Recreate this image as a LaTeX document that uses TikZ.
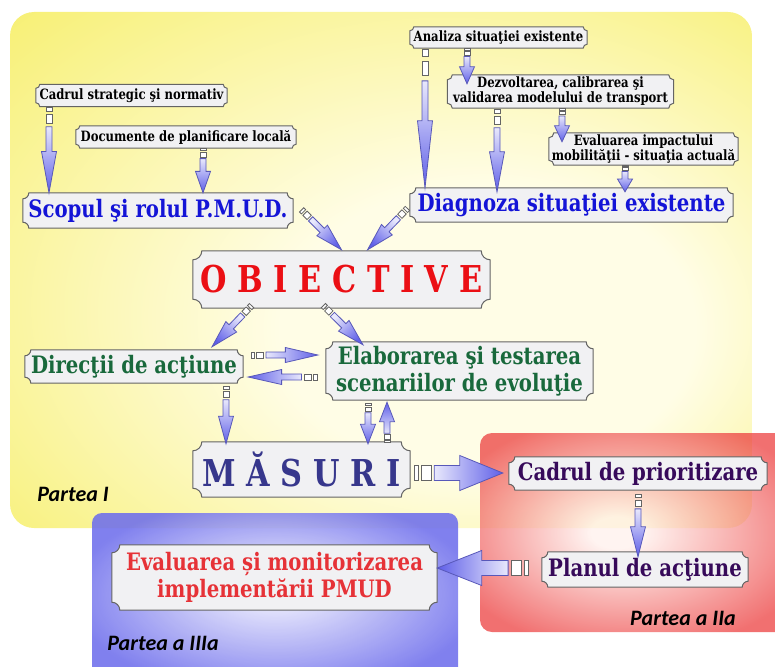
\documentclass[tikz,border=0pt]{standalone}
\usepackage{fontspec}
\setmainfont{DejaVu Serif}[FakeStretch=0.82]
\newfontfamily\partfont{Carlito}
\usetikzlibrary{calc}

\definecolor{yellowlight}{RGB}{255,253,230}
\definecolor{panelyellow}{RGB}{246,238,100}
\definecolor{redlight}{RGB}{255,240,236}
\definecolor{panelred}{RGB}{236,62,62}
\definecolor{bluelight}{RGB}{230,230,252}
\definecolor{panelblue}{RGB}{110,110,236}
\definecolor{plaquefill}{RGB}{241,241,243}
\definecolor{plaqueedge}{RGB}{100,100,100}
\definecolor{arrowedge}{RGB}{88,88,185}
\definecolor{arrowlight}{RGB}{232,232,252}
\definecolor{arrowdark}{RGB}{95,95,232}
\definecolor{textblue}{RGB}{20,20,215}
\definecolor{textred}{RGB}{235,15,20}
\definecolor{textgreen}{RGB}{25,105,60}
\definecolor{textnavy}{RGB}{55,55,140}
\definecolor{textpurple}{RGB}{55,10,90}
\definecolor{textcoral}{RGB}{230,50,55}

\pgfdeclarelayer{panels}
\pgfdeclarelayer{plaques}
\pgfsetlayers{panels,plaques,main}

\pgfdeclareradialshading{yellowglow}{\pgfpoint{10bp}{-8bp}}{color(0bp)=(yellowlight); color(14bp)=(yellowlight); color(42bp)=(panelyellow); color(50bp)=(panelyellow)}
\pgfdeclareradialshading{redglow}{\pgfpoint{-4bp}{0bp}}{color(0bp)=(redlight); color(4bp)=(redlight); color(30bp)=(panelred); color(50bp)=(panelred)}
\pgfdeclareradialshading{blueglow}{\pgfpoint{0bp}{4bp}}{color(0bp)=(bluelight); color(4bp)=(bluelight); color(28bp)=(panelblue); color(50bp)=(panelblue)}

% box with hollow corners behind a named node
\newcommand{\plaque}[2]{%
  \begin{pgfonlayer}{plaques}
    \filldraw[draw=plaqueedge, fill=plaquefill, line width=1pt]
      ($(#1.north west)+(0,-#2)$) arc[start angle=270, end angle=360, radius=#2]
      -- ($(#1.north east)+(-#2,0)$) arc[start angle=180, end angle=270, radius=#2]
      -- ($(#1.south east)+(0,#2)$) arc[start angle=90, end angle=180, radius=#2]
      -- ($(#1.south west)+(#2,0)$) arc[start angle=0, end angle=90, radius=#2]
      -- cycle;
  \end{pgfonlayer}}

\tikzset{
  pics/farrow/.style n args={4}{code={%
    \pgfmathsetmacro\headlen{0.48*#1}
    \pgfmathsetmacro\taillen{#1-\headlen}
    \draw[draw=plaqueedge, fill=white, line width=0.8pt] (0.02*\taillen,-#2) rectangle (0.11*\taillen,#2);
    \draw[draw=plaqueedge, fill=white, line width=0.8pt] (0.18*\taillen,-#2) rectangle (0.38*\taillen,#2);
    \draw[draw=arrowedge, line width=0.8pt, top color=arrowdark, bottom color=arrowlight, shading angle=#4-90]
      (0.45*\taillen,-#2) -- (\taillen,-#2) -- (\taillen,-#3) -- (#1,0)
      -- (\taillen,#3) -- (\taillen,#2) -- (0.45*\taillen,#2) -- cycle;
  }}
}

% from, to, shaft half width, head half width
\newcommand{\fatarrow}[4]{%
  \path let \p1=(#1), \p2=(#2),
    \n1={atan2(\y2-\y1,\x2-\x1)}, \n2={veclen(\x2-\x1,\y2-\y1)} in
    (\p1) pic[rotate=\n1] {farrow={\n2}{#3}{#4}{\n1}};}

\begin{document}
\begin{tikzpicture}[x=1pt, y=1pt,
    smallbox/.style={font=\bfseries\fontsize{14.2}{15}\selectfont, align=center, inner xsep=2pt, inner ysep=1pt},
    bigbox/.style={font=\bfseries\fontsize{24}{27}\selectfont, align=center, inner xsep=2pt, inner ysep=1pt},
    hugebox/.style={font=\bfseries\fontsize{37}{40}\selectfont, inner xsep=2pt, inner ysep=1pt},
    partlabel/.style={font=\partfont\bfseries\itshape\fontsize{22}{24}\selectfont}]
    \useasboundingbox (0,0) rectangle (775,-666);

    \begin{pgfonlayer}{panels}
        \shade[shading=yellowglow, rounded corners=24pt] (10,-12) rectangle (752,-528);
        \shade[shading=redglow, rounded corners=12pt, opacity=0.74] (480,-433) rectangle (800,-632);
        \shade[shading=blueglow, rounded corners=10pt, opacity=0.88] (92,-513) rectangle (458,-690);
    \end{pgfonlayer}

    \node[smallbox, minimum width=191pt, minimum height=22pt] (cadru) at (131.5,-95.5) {Cadrul strategic şi normativ};
    \node[smallbox, minimum width=220pt, minimum height=22pt] (docu) at (186,-137) {Documente de planificare locală};
    \node[bigbox, text=textblue, minimum width=270pt, minimum height=35pt] (scopul) at (158,-210.5) {Scopul şi rolul P.M.U.D.};
    \node[smallbox, minimum width=177pt, minimum height=21pt] (analiza) at (498.5,-37.5) {Analiza situaţiei existente};
    \node[smallbox, minimum width=226pt, minimum height=33pt] (dezv) at (560.5,-91.5) {Dezvoltarea, calibrarea şi\\validarea modelului de transport};
    \node[smallbox, minimum width=189pt, minimum height=32pt] (evalimp) at (643.5,-149) {Evaluarea impactului\\mobilităţii - situaţia actuală};
    \node[bigbox, text=textblue, minimum width=323pt, minimum height=34pt] (diag) at (571.5,-205) {Diagnoza situaţiei existente};
    \node[hugebox, text=textred, minimum width=297pt, minimum height=57pt] (obj) at (341.5,-279.5) {O B I E C T I V E};
    \node[bigbox, text=textgreen, minimum width=218pt, minimum height=33pt] (direc) at (134,-366.5) {Direcţii de acţiune};
    \node[bigbox, text=textgreen, minimum width=267pt, minimum height=58pt] (elab) at (459.5,-371) {Elaborarea şi testarea\\scenariilor de evoluţie};
    \node[hugebox, text=textnavy, minimum width=217pt, minimum height=55pt] (masuri) at (301.5,-469.5) {M Ă S U R I};
    \node[bigbox, text=textpurple, minimum width=258pt, minimum height=33pt] (cadprio) at (638,-473.5) {Cadrul de prioritizare};
    \node[bigbox, text=textpurple, minimum width=206pt, minimum height=35pt] (planul) at (645,-569.5) {Planul de acţiune};
    \node[bigbox, text=textcoral, minimum width=325pt, minimum height=65pt] (evalmon) at (274.5,-577.5) {Evaluarea și monitorizarea\\implementării PMUD};

    \foreach \n/\r in {cadru/4, docu/4, analiza/4, dezv/5, evalimp/5, scopul/6, diag/6, direc/6,
        elab/7, cadprio/6, planul/6, evalmon/8, obj/9, masuri/9}
        {\plaque{\n}{\r}}

    \node[partlabel] (parteaI) at (73,-494) {Partea I};
    \node[partlabel] (parteaII) at (683,-618) {Partea a IIa};
    \node[partlabel] (parteaIII) at (163,-643) {Partea a IIIa};

    % thin arrows
    \fatarrow{49,0 |- cadru.south}{49,0 |- scopul.north}{3}{7.5}
    \fatarrow{203,0 |- docu.south}{203,0 |- scopul.north}{3}{7.5}
    \fatarrow{425,0 |- analiza.south}{425,0 |- diag.north}{3}{7.5}
    \fatarrow{467,0 |- analiza.south}{$(467,0 |- dezv.north)+(0,-9)$}{3}{7.5}
    \fatarrow{497,0 |- dezv.south}{$(497,0 |- diag.north)+(0,-4)$}{3}{7.5}
    \fatarrow{562,0 |- dezv.south}{$(562,0 |- evalimp.north)+(0,-9)$}{3}{7.5}
    \fatarrow{625,0 |- evalimp.south}{$(625,0 |- diag.north)+(0,-4)$}{3}{7.5}
    \fatarrow{$(scopul.east)+(8,1)$}{$(obj.north)+(0,1)$}{3}{7.5}
    \fatarrow{$(diag.west)+(-2,-3)$}{$(obj.north)+(26,1)$}{3}{7.5}
    \fatarrow{$(obj.south)+(-89.5,3)$}{$(direc.north)+(78,3)$}{3}{7.5}
    \fatarrow{$(obj.south)+(-18.5,3)$}{$(elab.north)+(-96.5,-3)$}{3}{7.5}
    \fatarrow{$(direc.east |- 0,-355)+(7,0)$}{$(elab.west |- 0,-355)+(-8,0)$}{3}{7.5}
    \fatarrow{$(elab.west |- 0,-377)+(-8,0)$}{$(direc.east |- 0,-377)+(5,0)$}{3}{7.5}
    \fatarrow{$(226,0 |- direc.south)+(0,-3)$}{$(226,0 |- masuri.north)+(0,-2)$}{3}{7.5}
    \fatarrow{$(368,0 |- elab.south)+(0,-3)$}{$(368,0 |- masuri.north)+(0,-2)$}{3}{7.5}
    \fatarrow{$(387,0 |- masuri.north)+(0,-1)$}{$(387,0 |- elab.south)+(0,-2)$}{3}{7.5}
    \fatarrow{$(638,0 |- cadprio.south)+(0,-4)$}{$(638,0 |- planul.north)+(0,-5)$}{3}{7.5}

    % wide arrows
    \fatarrow{$(masuri.east |- 0,-473)+(3,0)$}{$(cadprio.west |- 0,-473)+(-6,0)$}{7.5}{17.5}
    \fatarrow{$(planul.west |- 0,-568)+(-12,0)$}{evalmon.east |- 0,-568}{7.5}{17.5}
\end{tikzpicture}
\end{document}
